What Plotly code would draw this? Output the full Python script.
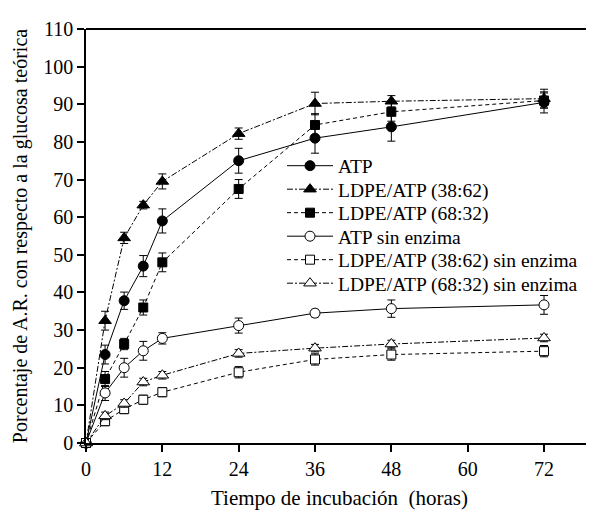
import plotly.graph_objects as go

tiempo = [0, 3, 6, 9, 12, 24, 36, 48, 72]

atp = [0, 23.5, 37.8, 47.0, 59.0, 75.0, 81.0, 84.0, 90.5]
atp_err = [0, 2.5, 2.3, 2.8, 3.2, 3.3, 4.0, 3.8, 2.8]

ldpe_3862 = [0, 32.5, 54.5, 63.2, 69.5, 82.2, 90.2, 90.8, 91.5]
ldpe_3862_err = [0, 2.5, 1.5, 1.0, 2.0, 1.5, 3.0, 1.5, 2.5]

ldpe_6832 = [0, 17.0, 26.3, 36.0, 48.0, 67.5, 84.5, 88.0, 91.0]
ldpe_6832_err = [0, 2.0, 1.5, 2.0, 2.5, 2.5, 3.0, 2.5, 2.0]

atp_se = [0, 13.3, 20.0, 24.5, 27.8, 31.2, 34.5, 35.7, 36.7]
atp_se_err = [0, 2.0, 2.5, 2.5, 1.5, 2.0, 1.0, 2.3, 2.5]

ldpe_3862_se = [0, 5.8, 9.0, 11.5, 13.5, 18.8, 22.2, 23.5, 24.4]
ldpe_3862_se_err = [0, 1.2, 1.2, 1.2, 1.2, 1.5, 1.5, 1.5, 1.5]

ldpe_6832_se = [0, 7.2, 10.5, 16.2, 18.0, 23.8, 25.2, 26.3, 27.9]
ldpe_6832_se_err = [0, 1.0, 1.0, 1.0, 1.0, 1.0, 1.0, 1.0, 1.0]

series = [
    ("ATP", atp, atp_err, "circle", "black", "solid", 10),
    ("LDPE/ATP (38:62)", ldpe_3862, ldpe_3862_err, "triangle-up", "black", "6px,2px,2px,2px", 11),
    ("LDPE/ATP (68:32)", ldpe_6832, ldpe_6832_err, "square", "black", "4px,3px", 9),
    ("ATP sin enzima", atp_se, atp_se_err, "circle", "white", "solid", 10),
    ("LDPE/ATP (38:62) sin enzima", ldpe_3862_se, ldpe_3862_se_err, "square", "white", "4px,3px", 9),
    ("LDPE/ATP (68:32) sin enzima", ldpe_6832_se, ldpe_6832_se_err, "triangle-up", "white", "6px,2px,2px,2px", 11),
]

font_serif = "Liberation Serif, Times New Roman, serif"

# legend row centres (window px) -> paper coords
row_centres = [166, 189.5, 213, 236.5, 260, 283.5]
legend_names = ["legend", "legend2", "legend3", "legend4", "legend5", "legend6"]

fig = go.Figure()
for i, (name, y, err, sym, fill, dash, size) in enumerate(series):
    fig.add_trace(go.Scatter(
        x=tiempo, y=y, name=name, mode="lines+markers",
        line=dict(color="black", width=1, dash=dash),
        marker=dict(symbol=sym, size=size, color=fill, line=dict(color="black", width=1)),
        error_y=dict(type="data", array=err, visible=True, color="black", thickness=1, width=4),
        cliponaxis=False,
        legend=legend_names[i],
    ))

legend_layout = {}
for i, ln in enumerate(legend_names):
    yp = 1 - (row_centres[i] - 29) / 414
    legend_layout[ln] = dict(
        x=0.3866, y=yp, xanchor="left", yanchor="middle",
        bgcolor="rgba(0,0,0,0)", font=dict(size=19.5, family=font_serif, color="black"),
        itemwidth=46, borderwidth=0,
    )

fig.update_layout(
    width=586, height=504,
    margin=dict(l=78, r=1, t=21, b=69),
    paper_bgcolor="white", plot_bgcolor="white",
    font=dict(family=font_serif, color="black", size=20),
    showlegend=True,
    xaxis=dict(
        range=[0, 79.7], tickvals=[0, 12, 24, 36, 48, 60, 72],
        showline=True, linecolor="black", linewidth=1.5, mirror=False,
        ticks="outside", ticklen=7, tickcolor="black", tickwidth=1.5,
        showgrid=False, zeroline=False,
        tickfont=dict(size=20),
        title=dict(text="Tiempo de incubación  (horas)", font=dict(size=21), standoff=12),
    ),
    yaxis=dict(
        range=[0, 110], tickvals=list(range(0, 111, 10)),
        showline=True, linecolor="black", linewidth=1.5,
        ticks="outside", ticklen=7, tickcolor="black", tickwidth=1.5,
        showgrid=False, zeroline=False,
        tickfont=dict(size=20),
        title=dict(text="Porcentaje de A.R. con respecto a la glucosa teórica", font=dict(size=20), standoff=10),
    ),
    shapes=[
        dict(type="line", xref="paper", yref="paper", x0=0, x1=1, y0=1, y1=1,
             line=dict(color="black", width=2)),
        dict(type="line", xref="paper", yref="paper", x0=1, x1=1, y0=0, y1=1,
             line=dict(color="#bbbbbb", width=1)),
    ],
    **legend_layout,
)

fig.write_html("out.html")
